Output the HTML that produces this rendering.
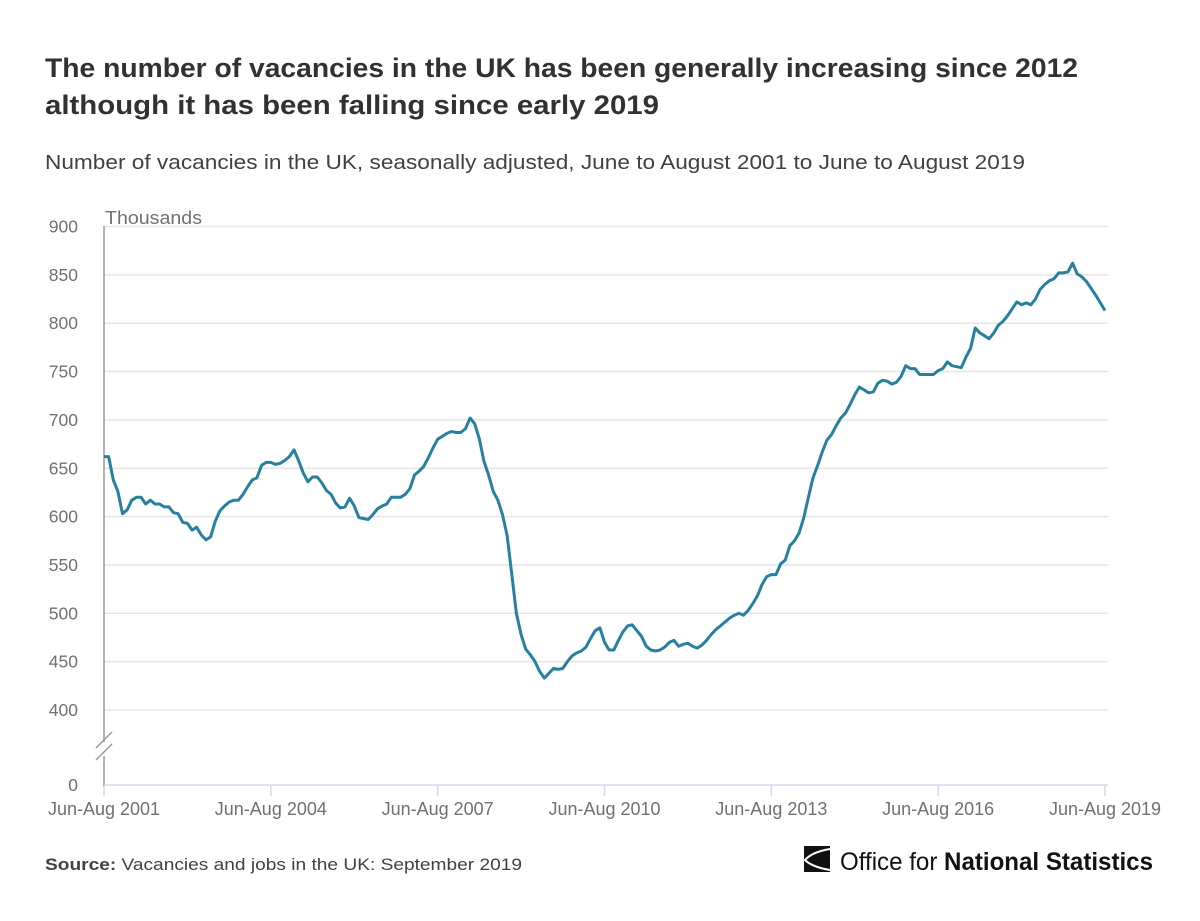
<!DOCTYPE html>
<html><head><meta charset="utf-8"><style>
body{margin:0;background:#fff;width:1200px;height:916px;overflow:hidden;font-family:"Liberation Sans",sans-serif}
svg text{font-family:"Liberation Sans",sans-serif}
</style></head><body>
<svg id="chart" width="1200" height="916" viewBox="0 0 1200 916">
<text x="45" y="77" font-size="27" font-weight="bold" fill="#323132" textLength="1033" lengthAdjust="spacingAndGlyphs">The number of vacancies in the UK has been generally increasing since 2012</text>
<text x="45" y="114" font-size="27" font-weight="bold" fill="#323132" textLength="614" lengthAdjust="spacingAndGlyphs">although it has been falling since early 2019</text>
<text x="45" y="169" font-size="20" fill="#414042" textLength="980" lengthAdjust="spacingAndGlyphs">Number of vacancies in the UK, seasonally adjusted, June to August 2001 to June to August 2019</text>
<svg x="0" y="210" width="1200" height="30" overflow="hidden"><text x="105" y="14" font-size="18" fill="#707070" textLength="97" lengthAdjust="spacingAndGlyphs">Thousands</text></svg>
<g id="grid"></g>
<g id="yticks"></g>
<g id="xticks"></g>
<line x1="104" y1="226" x2="104" y2="786" stroke="#999" stroke-width="1.5"/>
<rect x="98" y="742" width="12" height="14" fill="#fff"/>
<line x1="96" y1="748" x2="112" y2="732" stroke="#999" stroke-width="1.5"/>
<line x1="96" y1="760" x2="112" y2="744" stroke="#999" stroke-width="1.5"/>
<line x1="104" y1="785" x2="1108" y2="785" stroke="#d4d9e8" stroke-width="1.5"/>
<path id="series" fill="none" stroke="#27809f" stroke-width="3" stroke-linejoin="round"/>
<text x="45" y="870" font-size="17" fill="#414042" textLength="477" lengthAdjust="spacingAndGlyphs"><tspan font-weight="bold">Source:</tspan> Vacancies and jobs in the UK: September 2019</text>
<g>
<rect x="804" y="846" width="26" height="26" fill="#111"/>
<path d="M830 849 Q812 852 805 860 Q812 867 830 870" fill="none" stroke="#fff" stroke-width="2"/>
<text x="840" y="870" font-size="25" fill="#111" textLength="313" lengthAdjust="spacingAndGlyphs">Office for <tspan font-weight="bold">National Statistics</tspan></text>
</g>
</svg>
<script>
const yTicks=[0,400,450,500,550,600,650,700,750,800,850,900];
const xTickLabels=["Jun-Aug 2001","Jun-Aug 2004","Jun-Aug 2007","Jun-Aug 2010","Jun-Aug 2013","Jun-Aug 2016","Jun-Aug 2019"];
const xTickMonths=[0,36,72,108,144,180,216];
const vacancies=[662,662,638,626,603,607,617,620,620,613,
617,613,613,610,610,604,603,594,593,586,
589,581,576,579,595,606,611,615,617,617,
623,631,638,640,653,656,656,654,655,658,
662,669,658,645,636,641,641,635,627,623,
614,609,610,619,611,599,598,597,602,608,
611,613,620,620,620,623,629,643,647,652,
661,671,680,683,686,688,687,687,691,702,
696,680,657,643,626,617,602,580,540,500,
478,463,457,450,440,433,438,443,442,443,
450,456,459,461,465,474,482,485,470,462,
462,472,481,487,488,482,476,466,462,461,
462,465,470,472,466,468,469,466,464,467,
472,478,483,487,491,495,498,500,498,503,
510,518,530,538,540,540,551,555,570,575,
583,599,620,640,653,667,679,685,694,702,
707,716,726,734,731,728,729,738,741,740,
737,739,745,756,753,753,747,747,747,747,
751,753,760,756,755,754,765,774,795,790,
787,784,790,798,802,808,815,822,819,821,
819,825,835,840,844,846,852,852,853,862,
851,848,843,836,829,821,813];
const NS="http://www.w3.org/2000/svg";
function xPos(m){return 104+m*(1105-104)/216;}
function yPos(v){if(v<400)return 785;return 710-(v-400)*(710-226.5)/500;}
const grid=document.getElementById('grid'),yt=document.getElementById('yticks'),xt=document.getElementById('xticks');
yTicks.forEach(v=>{
  if(v>=400){const l=document.createElementNS(NS,'line');
  
  
  l.setAttribute('x1',104);l.setAttribute('x2',1108);l.setAttribute('y1',yPos(v));l.setAttribute('y2',yPos(v));
  l.setAttribute('stroke','#e6e6e6');l.setAttribute('stroke-width','1.5');grid.appendChild(l);}
  const t=document.createElementNS(NS,'text');
  
  
  t.setAttribute('x',78);t.setAttribute('y',yPos(v)+6);t.setAttribute('text-anchor','end');
  t.setAttribute('font-size','17.5');t.setAttribute('fill','#707070');t.textContent=v;yt.appendChild(t);
});
xTickMonths.forEach((m,i)=>{
  const l=document.createElementNS(NS,'line');
  
  
  l.setAttribute('x1',xPos(m));l.setAttribute('x2',xPos(m));l.setAttribute('y1',785);l.setAttribute('y2',796);
  l.setAttribute('stroke','#d4d9e8');l.setAttribute('stroke-width','1.5');xt.appendChild(l);
  const t=document.createElementNS(NS,'text');
  
  
  t.setAttribute('x',xPos(m));t.setAttribute('y',815);t.setAttribute('text-anchor','middle');
  t.setAttribute('font-size','18');t.setAttribute('fill','#707070');t.textContent=xTickLabels[i];xt.appendChild(t);
});
document.getElementById('series').setAttribute('d',vacancies.map((v,i)=>(i?'L':'M')+xPos(i).toFixed(1)+' '+yPos(v).toFixed(1)).join(' '));
</script>
</body></html>
